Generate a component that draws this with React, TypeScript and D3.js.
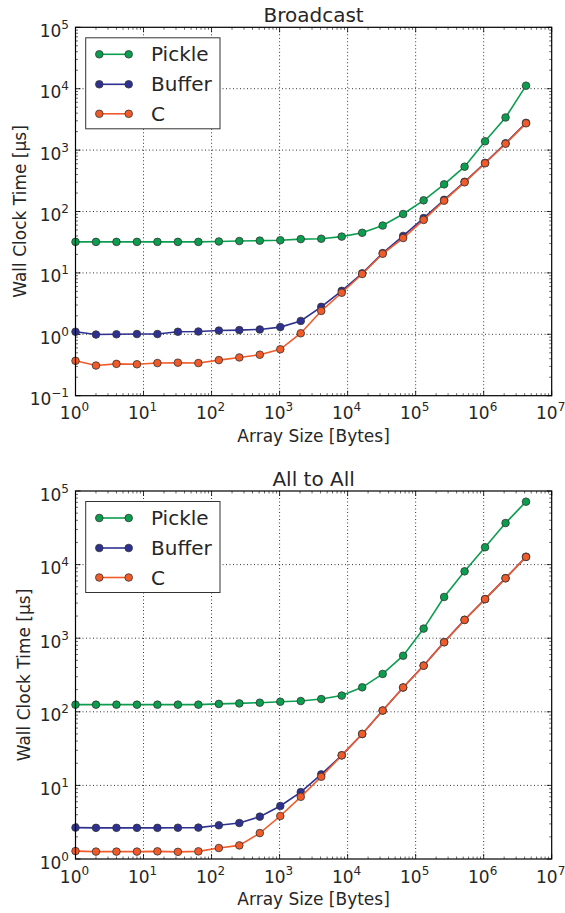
import * as d3 from "d3";
import React from "react";

// array sizes in bytes, 2^0 .. 2^22
const sizes = [
  1, 2, 4, 8, 16, 32, 64, 128, 256, 512, 1024, 2048, 4096, 8192, 16384, 32768,
  65536, 131072, 262144, 524288, 1048576, 2097152, 4194304,
];

// Broadcast, wall clock time [us]
const bcastPickle = [
  32, 32, 32, 32, 32, 32, 32, 32.5, 33, 33.5, 34, 35.5, 36, 39, 45, 59, 91, 152,
  277, 537, 1390, 3400, 11200,
];
const bcastBuffer = [
  1.1, 0.99, 1.0, 1.01, 1.01, 1.1, 1.11, 1.15, 1.17, 1.2, 1.31, 1.65, 2.8, 5.1,
  9.85, 21, 40, 78, 155, 305, 620, 1290, 2780,
];
const bcastC = [
  0.37, 0.31, 0.33, 0.325, 0.34, 0.345, 0.34, 0.38, 0.42, 0.465, 0.57, 1.04, 2.4,
  4.75, 9.6, 20.5, 37, 73, 150, 299, 610, 1270, 2730,
];

// All to All, wall clock time [us]
const allPickle = [
  125, 125, 125, 125, 125, 125, 125, 128, 130, 133, 137, 140, 149, 166, 215, 327,
  578, 1350, 3630, 8100, 17200, 36700, 71600,
];
const allBuffer = [
  2.67, 2.65, 2.65, 2.65, 2.65, 2.66, 2.67, 2.87, 3.08, 3.76, 5.25, 8.1, 14.1,
  25.6, 50, 104, 214, 425, 885, 1780, 3400, 6550, 12800,
];
const allC = [
  1.28, 1.26, 1.26, 1.26, 1.27, 1.25, 1.27, 1.41, 1.53, 2.25, 3.84, 7.0, 13.1,
  25.6, 50, 104, 214, 423, 880, 1770, 3390, 6510, 12700,
];

const seriesNames = ["Pickle", "Buffer", "C"];
const seriesColors = ["#0b9e4f", "#2e3191", "#f15a29"];

const xExponents = [0, 1, 2, 3, 4, 5, 6, 7];
const bcastYExponents = [-1, 0, 1, 2, 3, 4, 5];
const allYExponents = [0, 1, 2, 3, 4, 5];

const W = 565;
const H = 913;
const left = 75.5;
const right = 551.7;
const font = "'DejaVu Sans', sans-serif";
const ink = "#262626";

function sup(e: number) {
  return e < 0 ? "\u2212" + Math.abs(e) : String(e);
}

function Panel(props: {
  title: string;
  top: number;
  bottom: number;
  yExps: number[];
  data: number[][];
  ylabelX: number;
}) {
  const { title, top, bottom, yExps, data, ylabelX } = props;
  const x = d3
    .scaleLog()
    .domain([1, 1e7])
    .range([left, right]);
  const y = d3
    .scaleLog()
    .domain([Math.pow(10, yExps[0]), Math.pow(10, yExps[yExps.length - 1])])
    .range([bottom, top]);

  const line = d3
    .line<number>()
    .x((d, i) => x(sizes[i]))
    .y((d) => y(d));

  const xMinor: number[] = [];
  xExponents.slice(0, -1).forEach((e) => {
    for (let k = 2; k < 10; k++) xMinor.push(k * Math.pow(10, e));
  });
  const yMinor: number[] = [];
  yExps.slice(0, -1).forEach((e) => {
    for (let k = 2; k < 10; k++) yMinor.push(k * Math.pow(10, e));
  });

  const maj = 5;
  const mnr = 2.5;
  const midY = (top + bottom) / 2;
  const lgTop = top + 10.5;
  const rows = [lgTop + 16.5, lgTop + 46.5, lgTop + 76];

  return (
    <g>
      {/* grid */}
      {xExponents.slice(1, -1).map((e) => (
        <line
          key={"gx" + e}
          x1={x(Math.pow(10, e))}
          x2={x(Math.pow(10, e))}
          y1={top}
          y2={bottom}
          stroke="#000"
          strokeWidth={0.8}
          strokeDasharray="1,2.5"
        />
      ))}
      {yExps.slice(1, -1).map((e) => (
        <line
          key={"gy" + e}
          x1={left}
          x2={right}
          y1={y(Math.pow(10, e))}
          y2={y(Math.pow(10, e))}
          stroke="#000"
          strokeWidth={0.8}
          strokeDasharray="1,2.5"
        />
      ))}

      {/* ticks on all four sides */}
      {xExponents.map((e) => {
        const px = x(Math.pow(10, e));
        return (
          <g key={"tx" + e} stroke="#000" strokeWidth={0.8}>
            <line x1={px} x2={px} y1={bottom} y2={bottom - maj} />
            <line x1={px} x2={px} y1={top} y2={top + maj} />
          </g>
        );
      })}
      {xMinor.map((v, i) => (
        <g key={"mx" + i} stroke="#000" strokeWidth={0.6}>
          <line x1={x(v)} x2={x(v)} y1={bottom} y2={bottom - mnr} />
          <line x1={x(v)} x2={x(v)} y1={top} y2={top + mnr} />
        </g>
      ))}
      {yExps.map((e) => {
        const py = y(Math.pow(10, e));
        return (
          <g key={"ty" + e} stroke="#000" strokeWidth={0.8}>
            <line x1={left} x2={left + maj} y1={py} y2={py} />
            <line x1={right} x2={right - maj} y1={py} y2={py} />
          </g>
        );
      })}
      {yMinor.map((v, i) => (
        <g key={"my" + i} stroke="#000" strokeWidth={0.6}>
          <line x1={left} x2={left + mnr} y1={y(v)} y2={y(v)} />
          <line x1={right} x2={right - mnr} y1={y(v)} y2={y(v)} />
        </g>
      ))}

      {/* series */}
      {data.map((vals, si) => (
        <g key={"s" + si}>
          <path
            d={line(vals) || ""}
            fill="none"
            stroke={seriesColors[si]}
            strokeWidth={1.6}
          />
          {vals.map((v, i) => (
            <circle
              key={i}
              cx={x(sizes[i])}
              cy={y(v)}
              r={3.8}
              fill={seriesColors[si]}
              stroke="#333"
              strokeWidth={0.8}
            />
          ))}
        </g>
      ))}

      {/* frame */}
      <rect
        x={left}
        y={top}
        width={right - left}
        height={bottom - top}
        fill="none"
        stroke="#000"
        strokeWidth={1.2}
      />

      {/* legend */}
      <rect
        x={85.7}
        y={lgTop}
        width={134.3}
        height={91}
        fill="#fff"
        stroke="#333"
        strokeWidth={1}
      />
      {seriesNames.map((n, si) => (
        <g key={"lg" + si}>
          <line
            x1={99.3}
            x2={128.7}
            y1={rows[si]}
            y2={rows[si]}
            stroke={seriesColors[si]}
            strokeWidth={1.6}
          />
          {[99.3, 128.7].map((cx) => (
            <circle
              key={cx}
              cx={cx}
              cy={rows[si]}
              r={3.8}
              fill={seriesColors[si]}
              stroke="#333"
              strokeWidth={0.8}
            />
          ))}
          <text
            x={151}
            y={rows[si] + 7}
            fontSize={20}
            fontFamily={font}
            fill={ink}
          >
            {n}
          </text>
        </g>
      ))}

      {/* tick labels */}
      {xExponents.map((e) => (
        <text
          key={"lx" + e}
          x={x(Math.pow(10, e)) - 1}
          y={bottom + 23.5}
          textAnchor="middle"
          fontFamily={font}
          fill={ink}
        >
          <tspan fontSize={17}>10</tspan>
          <tspan fontSize={12} dy={-8}>
            {sup(e)}
          </tspan>
        </text>
      ))}
      {yExps.map((e) => (
        <text
          key={"ly" + e}
          x={69}
          y={y(Math.pow(10, e)) + 9.5}
          textAnchor="end"
          fontFamily={font}
          fill={ink}
        >
          <tspan fontSize={17}>10</tspan>
          <tspan fontSize={12} dy={-8}>
            {sup(e)}
          </tspan>
        </text>
      ))}

      {/* titles and axis labels */}
      <text
        x={(left + right) / 2}
        y={top - 5.5}
        textAnchor="middle"
        fontSize={20}
        fontFamily={font}
        fill={ink}
      >
        {title}
      </text>
      <text
        x={(left + right) / 2}
        y={bottom + 46}
        textAnchor="middle"
        fontSize={17}
        fontFamily={font}
        fill={ink}
      >
        Array Size [Bytes]
      </text>
      <text
        transform={`translate(${ylabelX},${midY}) rotate(-90)`}
        textAnchor="middle"
        fontSize={17}
        fontFamily={font}
        fill={ink}
      >
        Wall Clock Time [µs]
      </text>
    </g>
  );
}

export default function App() {
  return (
    <svg
      width={W}
      height={H}
      style={{ position: "absolute", left: 0, top: 0, background: "#fff" }}
    >
      <rect width={W} height={H} fill="#fff" />
      <Panel
        title="Broadcast"
        top={27.3}
        bottom={395.7}
        yExps={bcastYExponents}
        data={[bcastPickle, bcastBuffer, bcastC]}
        ylabelX={26}
      />
      <Panel
        title="All to All"
        top={491}
        bottom={859}
        yExps={allYExponents}
        data={[allPickle, allBuffer, allC]}
        ylabelX={30}
      />
    </svg>
  );
}
